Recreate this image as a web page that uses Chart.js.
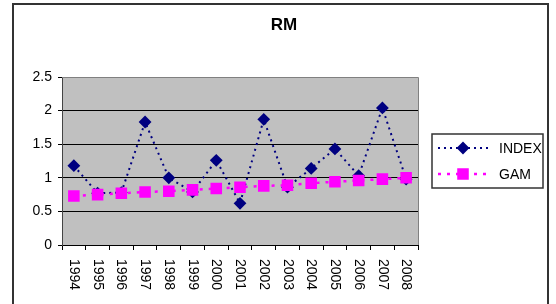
<!DOCTYPE html>
<html>
<head>
<meta charset="utf-8">
<script src="https://cdn.jsdelivr.net/npm/chart.js@4"></script>
<style>
  html, body { margin: 0; padding: 0; background: #fff; overflow: hidden; }
  #wrap { position: relative; width: 556px; height: 304px; }
</style>
</head>
<body>
<div id="wrap"><canvas id="chart" width="556" height="304"></canvas></div>
<script>
// chart data
const years = ['1994', '1995', '1996', '1997', '1998', '1999', '2000', '2001',
  '2002', '2003', '2004', '2005', '2006', '2007', '2008'];
const indexValues = [1.18, 0.77, 0.78, 1.83, 1.0, 0.79, 1.26, 0.62,
  1.87, 0.86, 1.14, 1.43, 1.03, 2.04, 0.98];
const gamValues = [0.73, 0.75, 0.77, 0.79, 0.80, 0.82, 0.84, 0.86,
  0.88, 0.89, 0.92, 0.94, 0.96, 0.98, 1.0];
const yTicks = [0, 0.5, 1, 1.5, 2, 2.5];
const chartTitle = 'RM';

const labelFont = '14px Arial, "Liberation Sans", sans-serif';

// background, title, rotated year labels, legend and outer frame
const excelLook = {
  id: 'excelLook',
  beforeDraw(chart) {
    const ctx = chart.ctx;
    const a = chart.chartArea;
    ctx.save();
    ctx.fillStyle = '#fff';
    ctx.fillRect(0, 0, chart.width, chart.height);
    ctx.fillStyle = '#c0c0c0';
    ctx.fillRect(a.left, a.top, a.right - a.left, a.bottom - a.top);
    ctx.restore();
  },
  afterDraw(chart) {
    const ctx = chart.ctx;
    const a = chart.chartArea;
    const xScale = chart.scales.x;
    ctx.save();

    // plot border top / right
    ctx.strokeStyle = '#808080';
    ctx.lineWidth = 1;
    ctx.beginPath();
    ctx.moveTo(a.left, a.top + 0.5);
    ctx.lineTo(a.right + 0.5, a.top + 0.5);
    ctx.lineTo(a.right + 0.5, a.bottom);
    ctx.stroke();

    // title
    ctx.fillStyle = '#000';
    ctx.font = 'bold 17px Arial, "Liberation Sans", sans-serif';
    ctx.textAlign = 'center';
    ctx.textBaseline = 'middle';
    ctx.fillText(chartTitle, 284, 25);

    // year labels, turned clockwise
    ctx.font = labelFont;
    ctx.textAlign = 'left';
    years.forEach(function (yr, i) {
      const x = xScale.getPixelForTick(i);
      ctx.save();
      ctx.translate(x, 259);
      ctx.rotate(Math.PI / 2);
      ctx.fillText(yr, 0, 0);
      ctx.restore();
    });

    // legend
    ctx.fillStyle = '#fff';
    ctx.fillRect(432, 134, 111, 54);
    ctx.strokeStyle = '#333';
    ctx.lineWidth = 1.5;
    ctx.strokeRect(432, 134, 111, 54);
    chart.data.datasets.forEach(function (ds, i) {
      const y = i === 0 ? 148 : 174;
      ctx.save();
      ctx.strokeStyle = ds.borderColor;
      ctx.lineWidth = ds.borderWidth;
      ctx.setLineDash(ds.borderDash);
      ctx.beginPath();
      ctx.moveTo(438, y);
      ctx.lineTo(490, y);
      ctx.stroke();
      ctx.setLineDash([]);
      ctx.fillStyle = ds.pointBackgroundColor;
      ctx.strokeStyle = ds.pointBorderColor;
      Chart.helpers.drawPoint(ctx, {
        pointStyle: ds.pointStyle,
        radius: ds.pointRadius,
        rotation: 0,
        borderWidth: 1
      }, 463, y);
      ctx.restore();
      ctx.fillStyle = '#000';
      ctx.font = labelFont;
      ctx.textAlign = 'left';
      ctx.textBaseline = 'middle';
      ctx.fillText(ds.label, 499, y + 1);
    });

    // outer frame
    ctx.strokeStyle = '#333';
    ctx.lineWidth = 2;
    ctx.strokeRect(13, 4, 535, 340);
    ctx.restore();
  }
};

const ctx = document.getElementById('chart').getContext('2d');
new Chart(ctx, {
  type: 'line',
  data: {
    labels: years,
    datasets: [
      {
        label: 'INDEX',
        data: indexValues,
        borderColor: '#000080',
        backgroundColor: '#000080',
        borderWidth: 2,
        borderDash: [2, 4],
        pointStyle: 'rectRot',
        pointRadius: 5,
        pointBackgroundColor: '#000080',
        pointBorderColor: '#000080',
        tension: 0,
        fill: false,
        order: 2
      },
      {
        label: 'GAM',
        data: gamValues,
        borderColor: '#ff00ff',
        backgroundColor: '#ff00ff',
        borderWidth: 2.5,
        borderDash: [3, 6],
        pointStyle: 'rect',
        pointRadius: 6.4,
        pointBackgroundColor: '#ff00ff',
        pointBorderColor: '#ff00ff',
        tension: 0,
        fill: false,
        order: 1
      }
    ]
  },
  options: {
    responsive: false,
    animation: false,
    layout: { padding: { top: 77, right: 138, bottom: 0, left: 0 } },
    plugins: {
      legend: { display: false },
      title: { display: false },
      tooltip: { enabled: false }
    },
    scales: {
      x: {
        offset: true,
        grid: {
          offset: true,
          drawOnChartArea: false,
          color: '#000',
          tickLength: 5
        },
        border: { color: '#000', width: 1 },
        ticks: { display: false },
        afterFit(scale) { scale.height = 59; }
      },
      y: {
        min: 0,
        max: 2.5,
        afterBuildTicks(scale) {
          scale.ticks = yTicks.map(function (v) { return { value: v }; });
        },
        grid: { color: '#000', tickLength: 4 },
        border: { color: '#444', width: 1 },
        ticks: {
          color: '#000',
          padding: 6,
          font: { family: 'Arial, "Liberation Sans", sans-serif', size: 14 },
          callback: function (v) { return String(v); }
        },
        afterFit(scale) { scale.width = 62; }
      }
    }
  },
  plugins: [excelLook]
});
</script>
</body>
</html>
